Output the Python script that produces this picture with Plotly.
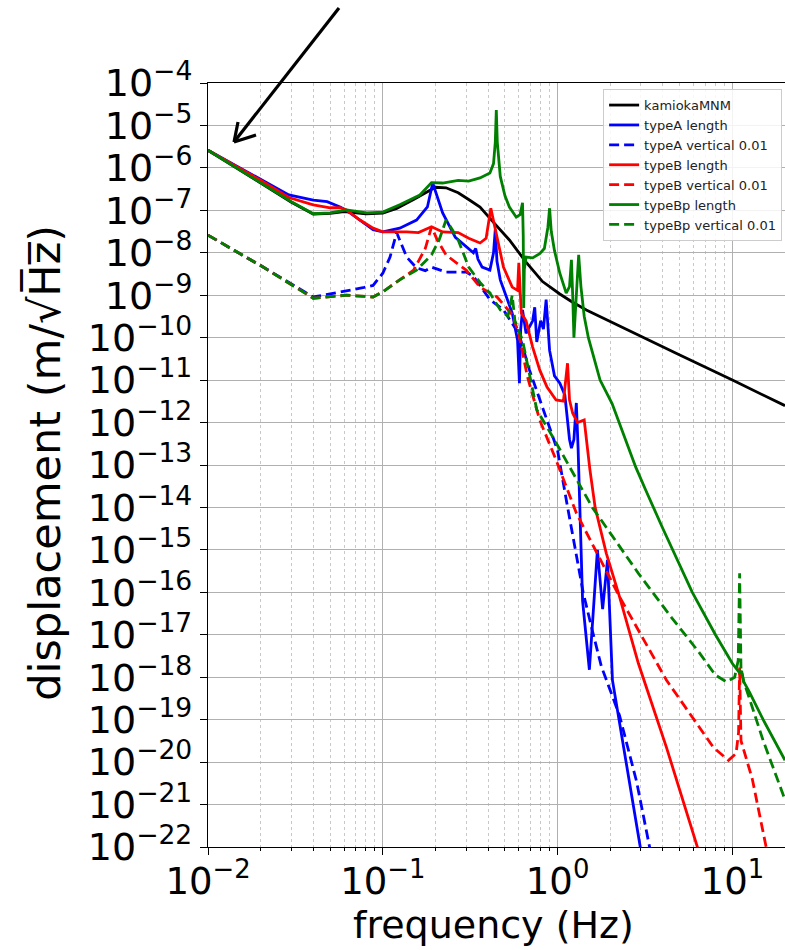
import plotly.graph_objects as go

# ---------------- data ----------------
f_kamioka = [0.01, 0.02, 0.03, 0.04, 0.05, 0.06, 0.08, 0.1, 0.12, 0.15, 0.18, 0.2, 0.23, 0.27,
             0.31, 0.36, 0.43, 0.53, 0.66, 0.82, 1.03, 1.2, 1.46, 2.0, 3.0, 5.0, 10.0, 20.0]
v_kamioka = [2.6e-6, 4.4e-7, 1.55e-7, 8.2e-8, 8.5e-8, 9.3e-8, 8.3e-8, 8.6e-8, 1.1e-7, 1.8e-7, 2.8e-7,
             3.5e-7, 3.4e-7, 2.6e-7, 1.8e-7, 1.2e-7, 5.2e-8, 2.0e-8, 6.0e-9, 2.1e-9, 1.07e-9, 7.1e-10,
             4.5e-10, 2.4e-10, 1.05e-10, 3.9e-11, 1.0e-11, 2.5e-12]

f_typeA_len = [0.01, 0.02, 0.029, 0.04, 0.048, 0.057, 0.062, 0.074, 0.088, 0.1, 0.125, 0.156, 0.18,
               0.193, 0.205, 0.22, 0.26, 0.3, 0.33, 0.34, 0.35, 0.37, 0.41, 0.43, 0.44, 0.45, 0.47,
               0.55, 0.59, 0.605, 0.615, 0.63, 0.66, 0.72, 0.74, 0.76, 0.8, 0.83, 0.86, 0.9, 0.96,
               1.03, 1.1, 1.17, 1.2, 1.24, 1.28, 1.31, 1.34, 1.39, 1.52, 1.69, 1.81, 1.93, 2.06,
               2.5, 2.98, 3.2]
v_typeA_len = [2.6e-6, 5.4e-7, 2.3e-7, 1.74e-7, 1.6e-7, 1.2e-7, 1.0e-7, 5.9e-8, 3.5e-8, 3.1e-8,
               3.8e-8, 5.9e-8, 1.2e-7, 4.4e-7, 2.2e-7, 8.7e-8, 2.3e-8, 1.38e-8, 1.0e-8, 1.26e-8,
               7.1e-9, 4.6e-9, 3.9e-9, 1.0e-8, 3.5e-8, 6.3e-9, 2.3e-9, 3.8e-10, 8.7e-11, 8.5e-12,
               1.6e-10, 4.5e-10, 1.26e-10, 2.5e-10, 5.2e-10, 7.9e-11, 2.5e-10, 1.6e-10, 7.9e-10,
               5.0e-11, 1.26e-11, 8.5e-12, 4.5e-12, 4.0e-13, 2.5e-13, 4.0e-13, 2.9e-12, 2.5e-13,
               1.0e-14, 6.3e-17, 1.5e-18, 1.0e-15, 4.0e-17, 5.8e-16, 8.5e-19, 7.9e-21, 1.0e-22,
               1.6e-23]

f_typeA_ver = [0.01, 0.02, 0.04, 0.059, 0.077, 0.088, 0.1, 0.11, 0.12, 0.137, 0.156, 0.175, 0.19,
               0.23, 0.3, 0.33, 0.41, 0.49, 0.6, 0.69, 1.0, 1.13, 1.25, 1.4, 1.58, 1.78, 2.26,
               2.83, 3.36, 3.6]
v_typeA_ver = [2.6e-8, 5.0e-9, 9.1e-10, 1.2e-9, 1.5e-9, 1.7e-9, 3.3e-9, 7.9e-9, 3.0e-8, 7.9e-9,
               4.4e-9, 3.8e-9, 4.6e-9, 3.5e-9, 3.5e-9, 2.8e-9, 7.9e-10, 4.5e-10, 1.26e-10, 1.74e-11,
               2.2e-13, 1.26e-14, 1.26e-15, 1.0e-16, 1.26e-17, 1.8e-18, 1.26e-19, 3.5e-21, 1.0e-22,
               2.5e-23]

f_typeB_len = [0.01, 0.02, 0.029, 0.04, 0.05, 0.057, 0.062, 0.074, 0.088, 0.1, 0.137, 0.16, 0.19,
               0.22, 0.27, 0.31, 0.36, 0.39, 0.415, 0.44, 0.49, 0.55, 0.59, 0.6, 0.62, 0.66, 0.72,
               0.79, 0.87, 0.98, 1.08, 1.14, 1.17, 1.22, 1.3, 1.42, 1.46, 1.53, 1.64, 1.9, 2.26,
               2.9, 4.2, 6.3, 7.0]
v_typeB_len = [2.6e-6, 5.1e-7, 2.0e-7, 1.35e-7, 1.15e-7, 1.15e-7, 1.02e-7, 5.9e-8, 3.8e-8, 3.1e-8,
               3.1e-8, 3.0e-8, 4.1e-8, 3.1e-8, 3.0e-8, 2.2e-8, 1.7e-8, 2.2e-8, 1.12e-7, 3.5e-8,
               4.6e-9, 1.55e-9, 1.3e-9, 5.8e-9, 3.8e-10, 2.5e-10, 6.0e-11, 1.74e-11, 6.9e-12,
               3.4e-12, 3.2e-12, 2.5e-11, 3.4e-12, 1.66e-12, 1.0e-12, 1.15e-12, 3.9e-13, 7.9e-14,
               1.0e-14, 8.3e-16, 7.9e-17, 2.1e-18, 2.2e-20, 1.0e-22, 2.5e-23]

f_typeB_ver = [0.01, 0.02, 0.04, 0.062, 0.088, 0.1, 0.11, 0.15, 0.175, 0.19, 0.205, 0.23, 0.3, 0.36,
               0.45, 0.55, 0.6, 0.67, 0.79, 0.98, 1.28, 1.75, 2.26, 4.2, 7.8, 9.5, 10.5, 10.85,
               11.0, 11.2, 13.0, 15.6, 17.0]
v_typeB_ver = [2.6e-8, 5.0e-9, 8.5e-10, 1.0e-9, 9.1e-10, 1.2e-9, 1.6e-9, 3.9e-9, 1.26e-8, 4.1e-8,
               2.0e-8, 8.9e-9, 3.9e-9, 1.55e-9, 9.1e-10, 3.5e-10, 1.26e-10, 1.26e-11, 1.15e-12,
               1.32e-13, 7.4e-15, 5.8e-16, 7.9e-17, 8.5e-19, 2.2e-20, 1.1e-20, 1.6e-20, 5.0e-20,
               1.7e-18, 3.2e-20, 4.0e-21, 1.0e-22, 2.5e-23]

f_typeBp_len = [0.01, 0.02, 0.03, 0.04, 0.05, 0.062, 0.081, 0.1, 0.125, 0.163, 0.19, 0.22, 0.27,
                0.31, 0.36, 0.41, 0.43, 0.44, 0.446, 0.452, 0.47, 0.5, 0.53, 0.58, 0.61, 0.63,
                0.636, 0.64, 0.645, 0.66, 0.72, 0.79, 0.84, 0.88, 0.9, 0.92, 0.96, 1.03, 1.12,
                1.17, 1.2, 1.22, 1.24, 1.28, 1.32, 1.36, 1.42, 1.5, 1.75, 2.05, 2.8, 3.2, 4.0,
                5.9, 8.0, 10.0, 11.0, 11.3, 11.6, 12.5, 15.0, 20.0]
v_typeBp_len = [2.6e-6, 4.5e-7, 1.6e-7, 8.3e-8, 8.7e-8, 1.02e-7, 8.7e-8, 9.1e-8, 1.35e-7, 2.3e-7,
                4.5e-7, 4.4e-7, 5.1e-7, 4.9e-7, 5.8e-7, 7.6e-7, 1.26e-6, 4.0e-6, 2.3e-5, 4.0e-6,
                6.3e-7, 2.2e-7, 1.2e-7, 6.9e-8, 7.9e-8, 1.5e-7, 2.5e-8, 5.0e-10, 4.0e-9, 7.9e-9,
                7.6e-9, 9.5e-9, 1.26e-8, 4.0e-8, 1.12e-7, 3.2e-8, 1.12e-8, 3.3e-9, 1.12e-9, 1.6e-9,
                6.8e-9, 1.0e-9, 1.0e-10, 1.0e-9, 8.9e-9, 1.6e-9, 3.2e-10, 1.0e-10, 1.0e-11,
                2.8e-12, 8.9e-14, 2.5e-14, 3.2e-15, 1.0e-16, 1.0e-17, 2.1e-18, 1.26e-18, 1.4e-18,
                7.9e-19, 4.5e-19, 1.0e-19, 1.1e-20]

f_typeBp_ver = [0.01, 0.02, 0.04, 0.062, 0.088, 0.1, 0.125, 0.156, 0.19, 0.21, 0.23, 0.25, 0.27,
                0.31, 0.36, 0.41, 0.47, 0.52, 0.55, 0.57, 0.63, 0.76, 0.96, 1.58, 2.9, 4.5, 6.4,
                8.0, 9.25, 10.3, 10.8, 11.0, 11.2, 11.6, 12.5, 15.0, 20.0]
v_typeBp_ver = [2.6e-8, 5.0e-9, 8.5e-10, 1.0e-9, 9.1e-10, 1.2e-9, 2.3e-9, 3.9e-9, 8.9e-9, 2.0e-8,
                5.9e-8, 3.5e-8, 2.0e-8, 4.6e-9, 2.0e-9, 1.12e-9, 4.5e-10, 3.2e-10, 1.0e-9, 2.5e-10,
                8.7e-11, 2.0e-12, 3.9e-13, 1.0e-14, 2.8e-16, 2.5e-17, 4.0e-18, 1.12e-18, 7.8e-19,
                1.0e-18, 2.5e-18, 2.8e-16, 1.6e-18, 7.9e-19, 3.2e-19, 3.2e-20, 1.3e-21]

series_names = ["kamiokaMNM", "typeA length", "typeA vertical 0.01", "typeB length",
                "typeB vertical 0.01", "typeBp length", "typeBp vertical 0.01"]

x_major_vals = [0.01, 0.1, 1, 10]
x_major_text = ["10<sup>\u22122</sup>", "10<sup>\u22121</sup>", "10<sup>0</sup>", "10<sup>1</sup>"]
x_minor_vals = [0.02, 0.03, 0.04, 0.05, 0.06, 0.07, 0.08, 0.09,
                0.2, 0.3, 0.4, 0.5, 0.6, 0.7, 0.8, 0.9,
                2, 3, 4, 5, 6, 7, 8, 9]
y_exponents = [-4, -5, -6, -7, -8, -9, -10, -11, -12, -13, -14, -15, -16, -17, -18, -19, -20, -21, -22]
y_tick_vals = [10.0 ** e for e in y_exponents]
y_tick_text = ["10<sup>\u2212%d</sup>" % (-e) for e in y_exponents]

# ---------------- figure ----------------
FONT = "DejaVu Sans"
fig = go.Figure()

styles = [
    ("black", "solid"),
    ("#0000ff", "solid"),
    ("#0000ff", "10px,5px"),
    ("#ff0000", "solid"),
    ("#ff0000", "10px,5px"),
    ("#008000", "solid"),
    ("#008000", "10px,5px"),
]
data = [
    (f_kamioka, v_kamioka),
    (f_typeA_len, v_typeA_len),
    (f_typeA_ver, v_typeA_ver),
    (f_typeB_len, v_typeB_len),
    (f_typeB_ver, v_typeB_ver),
    (f_typeBp_len, v_typeBp_len),
    (f_typeBp_ver, v_typeBp_ver),
]
for (xs, ys), name, (col, dash) in zip(data, series_names, styles):
    fig.add_trace(go.Scatter(x=xs, y=ys, mode="lines", name=name,
                             line=dict(color=col, width=2.8, dash=dash)))

fig.update_layout(
    width=785, height=950,
    margin=dict(l=208, r=0, t=83, b=103),
    paper_bgcolor="white", plot_bgcolor="white",
    font=dict(family=FONT, color="black"),
    showlegend=True,
    legend=dict(x=0.995, y=0.992, xanchor="right", yanchor="top",
                bgcolor="rgba(255,255,255,0.85)", bordercolor="#cccccc", borderwidth=1,
                font=dict(family=FONT, size=13, color="#222222"),
                traceorder="normal"),
)

fig.update_xaxes(
    type="log", range=[-2, 1.3010],
    tickmode="array", tickvals=x_major_vals, ticktext=x_major_text,
    tickfont=dict(family=FONT, size=37, color="black"),
    ticks="outside", ticklen=7, tickcolor="black", tickwidth=1,
    ticklabelstandoff=-6,
    showgrid=True, gridcolor="#b0b0b0", gridwidth=1,
    showline=True, linecolor="black", linewidth=1.2, mirror=True,
    minor=dict(tickmode="array", tickvals=x_minor_vals, ticks="outside", ticklen=3,
               tickcolor="black", showgrid=True, gridcolor="#c8c8c8", griddash="dot", gridwidth=1),
)
fig.update_yaxes(
    type="log", range=[-22, -4],
    tickmode="array", tickvals=y_tick_vals, ticktext=y_tick_text,
    tickfont=dict(family=FONT, size=38, color="black"),
    ticks="outside", ticklen=7, tickcolor="black", tickwidth=1,
    showgrid=True, gridcolor="#b0b0b0", gridwidth=1,
    showline=True, linecolor="black", linewidth=1.2, mirror=False,
)

# axis titles
fig.add_annotation(text="frequency (Hz)", xref="paper", yref="paper", x=0.494, y=-0.1335,
                   xanchor="center", yanchor="bottom", showarrow=False,
                   font=dict(family=FONT, size=38, color="black"))
fig.add_annotation(text="displacement (m/\u221aH\u0305z\u0305)", xref="paper", yref="paper",
                   x=-0.2825, y=0.503, xanchor="center", yanchor="middle", textangle=-90,
                   showarrow=False, font=dict(family=FONT, size=43, color="black"))

# arrow pointing at the low-frequency end (drawn as lines, open head)
arrow = [((0.0451, 0.9228), (0.2270, 1.0982)),
         ((0.0451, 0.9228), (0.0520, 0.9490)),
         ((0.0451, 0.9228), (0.0832, 0.9319))]
for (x0, y0), (x1, y1) in arrow:
    fig.add_shape(type="line", xref="paper", yref="paper", x0=x0, y0=y0, x1=x1, y1=y1,
                  line=dict(color="black", width=3.2))

fig.write_html("out.html")
